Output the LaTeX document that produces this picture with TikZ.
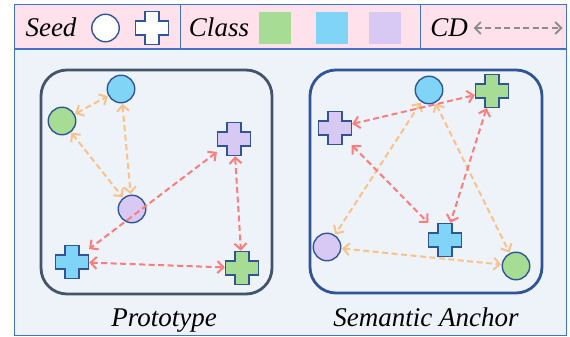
\documentclass[tikz,border=0pt]{standalone}
\usepackage{fontspec}
\setmainfont{Liberation Serif}
\usetikzlibrary{calc}
\usetikzlibrary{positioning}
\usetikzlibrary{arrows.meta}

\definecolor{seedgreen}{HTML}{A6DC93}
\definecolor{seedblue}{HTML}{80D4F5}
\definecolor{seedpurple}{HTML}{D8C8F4}
\definecolor{nodeblue}{HTML}{2F5597}
\definecolor{protogray}{HTML}{44546A}
\definecolor{cdorange}{HTML}{F9C28A}
\definecolor{cdred}{HTML}{FF7C7C}
\definecolor{cdgray}{HTML}{8C8C8C}
\definecolor{framefill}{HTML}{EEF2F9}
\definecolor{headfill}{HTML}{FFE1EC}
\definecolor{frameblue}{HTML}{4472C4}

\tikzset{
  seed/.style={circle, draw=nodeblue, line width=1.4pt, minimum size=27.5pt, inner sep=0pt},
  cell/.style={draw=nodeblue, line width=1.4pt, line join=miter},
  word/.style={font=\fontsize{27}{30}\selectfont\itshape, inner sep=0pt, anchor=base},
  cdline/.style={{Straight Barb[length=6pt,width=12pt]}-{Straight Barb[length=6pt,width=12pt]},
    dash pattern=on 6pt off 3.5pt, line width=2pt, shorten <=0.5pt, shorten >=0.5pt},
  near/.style={cdline, draw=cdorange},
  far/.style={cdline, draw=cdred},
}

% cross shaped seed: name, position, fill
\newcommand{\crossnode}[3]{%
  \node[minimum size=33pt, inner sep=0pt] (#1) at (#2) {};
  \draw[cell, fill=#3, shift={(#1.center)}] (-7,-16.5) -- (7,-16.5) -- (7,-7) -- (16.5,-7)
    -- (16.5,7) -- (7,7) -- (7,16.5) -- (-7,16.5) -- (-7,7) -- (-16.5,7) -- (-16.5,-7)
    -- (-7,-7) -- cycle;
}

\begin{document}
\begin{tikzpicture}[x=1pt, y=-1pt]
      \useasboundingbox (0,0) rectangle (570,337);

      % frame
      \draw[frameblue, line width=1pt, fill=headfill] (14,5) rectangle (566,49);
      \draw[frameblue, line width=1pt, fill=framefill] (14,50) rectangle (566,335);
      \draw[frameblue, line width=1pt] (180,5) -- (180,49);
      \draw[frameblue, line width=1pt] (420,5) -- (420,49);

      % legend
      \node[word] (seedtxt) at (51,37) {Seed};
      \node[seed, fill=white] (seedc) at (105.5,28) {};
      \crossnode{seedx}{152,28}{white}
      \node[word] (classtxt) at (219,37) {Class};
      \draw[draw=none, fill=seedgreen] (259,12) rectangle (291,44);
      \draw[draw=none, fill=seedblue] (316,12) rectangle (348,44);
      \draw[draw=none, fill=seedpurple] (369,12) rectangle (401,44);
      \node[word] (cdtxt) at (449,37) {CD};
      \coordinate (cdl) at (473,28);
      \coordinate (cdr) at (563,28);
      \draw[cdline, draw=cdgray, line width=1.8pt] (cdl) -- (cdr);

      % prototype
      \draw[protogray, line width=2.8pt, rounded corners=26pt] (41,70) rectangle (272,294);
      \node[seed, fill=seedblue] (bc1) at (121,89) {};
      \node[seed, fill=seedgreen] (gc1) at (62,121) {};
      \node[seed, fill=seedpurple] (pc1) at (132,209) {};
      \crossnode{px1}{234,139}{seedpurple}
      \crossnode{bx1}{72,262}{seedblue}
      \crossnode{gx1}{242,268}{seedgreen}

      \draw[near] (gc1) -- (bc1);
      \draw[near] (bc1) -- (pc1);
      \draw[near] (gc1) -- (pc1);
      \draw[far] (px1) -- (bx1);
      \draw[far] (px1) -- (gx1);
      \draw[far] (bx1) -- (gx1);

      \node[word] (prototxt) at (164,326) {Prototype};

      % semantic anchor
      \draw[nodeblue, line width=2.8pt, rounded corners=26pt] (310,70) rectangle (542,293);
      \node[seed, fill=seedblue] (bc2) at (429,90) {};
      \crossnode{gx2}{492,91}{seedgreen}
      \crossnode{px2}{335,128}{seedpurple}
      \node[seed, fill=seedpurple] (pc2) at (327,247) {};
      \crossnode{bx2}{445,240}{seedblue}
      \node[seed, fill=seedgreen] (gc2) at (516,266) {};

      \draw[near] (bc2) -- (pc2);
      \draw[near] (bc2) -- (gc2);
      \draw[near] (pc2) -- (gc2);
      \draw[far] (px2) -- (gx2);
      \draw[far] (px2) -- (bx2);
      \draw[far] (gx2) -- (bx2);

      \node[word] (anchortxt) at (426,326) {Semantic Anchor};
    \end{tikzpicture}
\end{document}
